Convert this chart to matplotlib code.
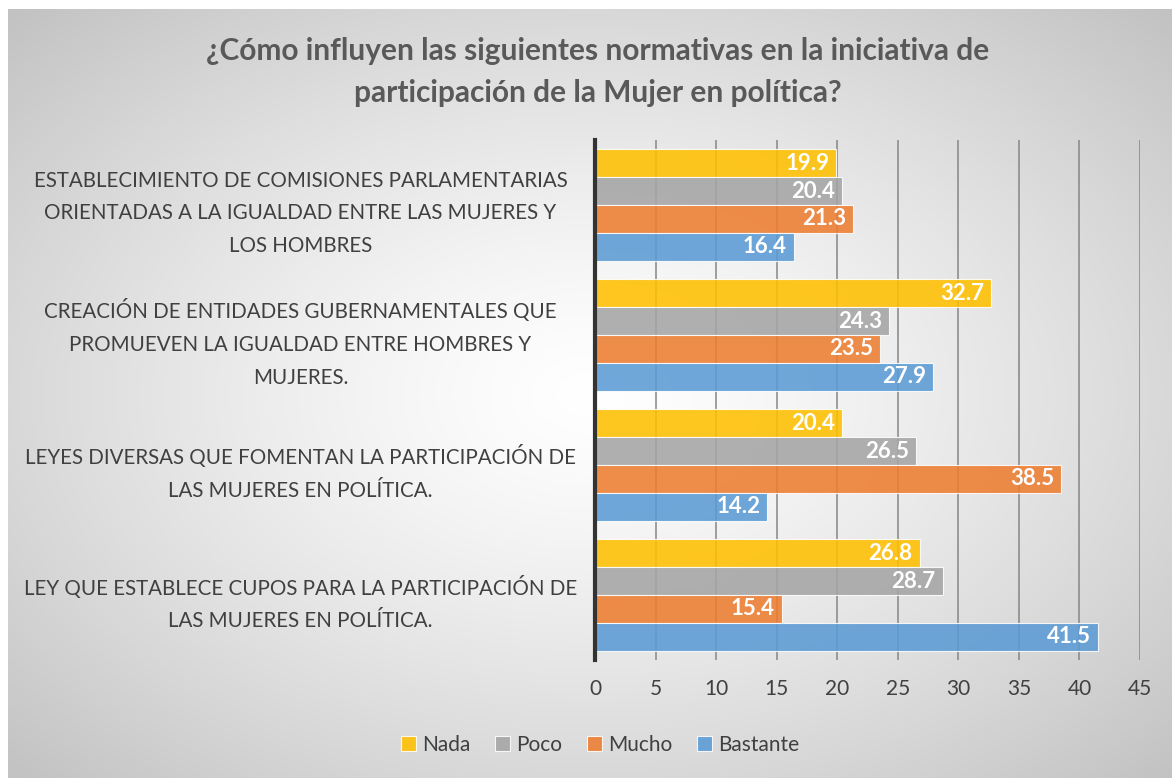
import numpy as np
import matplotlib
matplotlib.use("Agg")
import matplotlib.pyplot as plt

categories = [
    "ESTABLECIMIENTO DE COMISIONES PARLAMENTARIAS\nORIENTADAS A LA IGUALDAD ENTRE LAS MUJERES Y\nLOS HOMBRES",
    "CREACIÓN DE ENTIDADES GUBERNAMENTALES QUE\nPROMUEVEN LA IGUALDAD ENTRE HOMBRES Y\nMUJERES.",
    "LEYES DIVERSAS QUE FOMENTAN LA PARTICIPACIÓN DE\nLAS MUJERES EN POLÍTICA.",
    "LEY QUE ESTABLECE CUPOS PARA LA PARTICIPACIÓN DE\nLAS MUJERES EN POLÍTICA.",
]
series_names = ["Nada", "Poco", "Mucho", "Bastante"]
nada = [19.9, 32.7, 20.4, 26.8]
poco = [20.4, 24.3, 26.5, 28.7]
mucho = [21.3, 23.5, 38.5, 15.4]
bastante = [16.4, 27.9, 14.2, 41.5]
colors = ["#FFC000", "#A5A5A5", "#ED7D31", "#5B9BD5"]
title = "¿Cómo influyen las siguientes normativas en la iniciativa de\nparticipación de la Mujer en política?"
xticks = list(range(0, 50, 5))

plt.rcParams['font.family'] = ['Lato', 'DejaVu Sans']

W, H = 1172, 778
fig = plt.figure(figsize=(W / 100, H / 100), dpi=100)

# background radial gradient
bg = fig.add_axes([8 / W, 0, 1 - 8 / W, 1 - 9 / H])
bg.set_axis_off()
ny, nx = 300, 450
yy, xx = np.mgrid[0:ny, 0:nx]
cx, cy = 0.5 * nx, 0.5 * ny
r = np.sqrt(((xx - cx) / (nx / 2)) ** 2 + ((yy - cy) / (ny / 2)) ** 2) / np.sqrt(2)
val = 1.0 - 0.24 * np.clip(r, 0, 1) ** 1.3
img = np.dstack([val, val, val])
bg.imshow(img, extent=[0, 1, 0, 1], aspect='auto', interpolation='bilinear')
bg.set_xlim(0, 1)
bg.set_ylim(0, 1)

# plot axes
x0, x1 = 595, 1140
y0, y1 = 140, 660
ax = fig.add_axes([x0 / W, 1 - y1 / H, (x1 - x0) / W, (y1 - y0) / H])
ax.set_facecolor('none')

n = len(categories)
bar_h = 0.215
series = [nada, poco, mucho, bastante]
ypos = np.arange(n)
for i, (vals, c, name) in enumerate(zip(series, colors, series_names)):
    offs = (i - 1.5) * bar_h
    bars = ax.barh(ypos + offs, vals, height=bar_h, color=c, alpha=0.88,
                   edgecolor='white', linewidth=0.8, label=name, zorder=3)
    for b, v in zip(bars, vals):
        ax.annotate(f"{v:.1f}", xy=(v, b.get_y() + b.get_height() / 2),
                    xytext=(-5, 0), textcoords='offset points',
                    ha='right', va='center', color='white', fontsize=16,
                    fontweight='bold', zorder=4)

ax.set_ylim(n - 0.5, -0.5)
ax.set_xlim(0, 45)
ax.set_xticks(xticks)
ax.set_xticklabels([str(t) for t in xticks], fontsize=15, color='#404040')
ax.set_yticks(ypos)
ax.set_yticklabels(categories, fontsize=14.8, color='#404040', ha='center',
                   linespacing=1.8)
ax.tick_params(axis='y', length=0, pad=212)
ax.tick_params(axis='x', length=0, pad=14)
ax.grid(axis='x', color='#868686', linewidth=1.1, zorder=1)
for s in ['top', 'right', 'bottom']:
    ax.spines[s].set_visible(False)
ax.spines['left'].set_color('#333333')
ax.spines['left'].set_linewidth(3)
ax.spines['left'].set_zorder(5)

fig.text(598 / W, 1 - 72 / H, title, ha='center', va='center', fontsize=21.5,
         fontweight='bold', color='#595959', linespacing=1.6)

handles, labels = ax.get_legend_handles_labels()
leg = fig.legend(handles, labels, loc='center', bbox_to_anchor=(600 / W, 1 - 745 / H),
                 ncol=4, frameon=False, fontsize=15, handlelength=0.7,
                 handleheight=0.7, handletextpad=0.3, columnspacing=1.2)
for t in leg.get_texts():
    t.set_color('#404040')

fig.savefig("out.png", dpi=100)
